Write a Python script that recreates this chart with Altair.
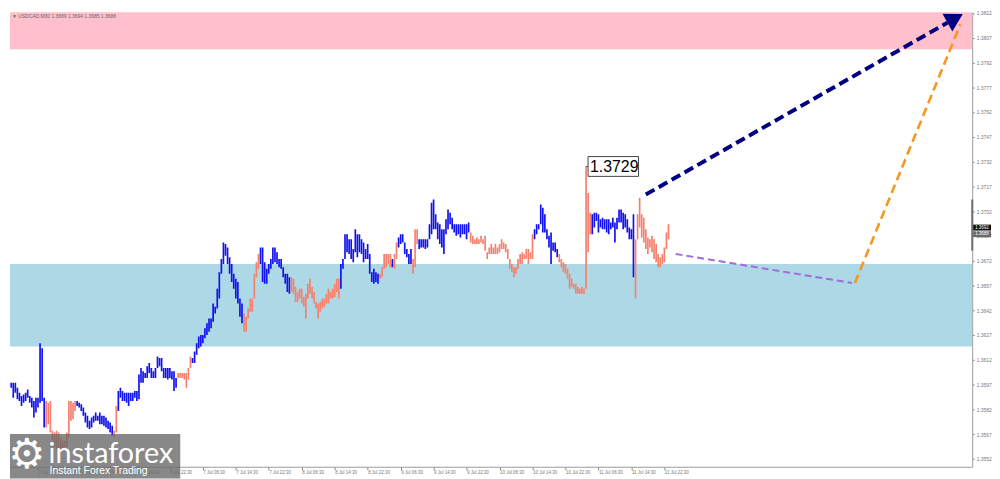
import altair as alt
import pandas as pd

# ---------------- data ----------------
first_bar = -1  # bar index of first bar (M30 bars, index 0 = 3 Jul 06:30)

bar_high = [
    1.3594, 1.3595, 1.3596, 1.3599, 1.3598, 1.3598, 1.3598, 1.3595, 1.3592, 1.3590,
    1.3591, 1.3592, 1.3594, 1.3590, 1.3589, 1.3587, 1.3589, 1.3589, 1.3622, 1.3619,
    1.3589, 1.3587, 1.3586, 1.3587, 1.3569, 1.3568, 1.3569, 1.3568, 1.3565, 1.3563,
    1.3563, 1.3568, 1.3587, 1.3587, 1.3586, 1.3587, 1.3587, 1.3586, 1.3585, 1.3583,
    1.3580, 1.3578, 1.3575, 1.3577, 1.3578, 1.3580, 1.3578, 1.3580, 1.3578, 1.3578,
    1.3577, 1.3575, 1.3574, 1.3572, 1.3569, 1.3584, 1.3593, 1.3595, 1.3593, 1.3592,
    1.3592, 1.3592, 1.3592, 1.3592, 1.3593, 1.3593, 1.3603, 1.3607, 1.3605, 1.3604,
    1.3608, 1.3610, 1.3607, 1.3605, 1.3607, 1.3614, 1.3613, 1.3613, 1.3607, 1.3607,
    1.3607, 1.3607, 1.3605, 1.3605, 1.3601, 1.3604, 1.3604, 1.3604, 1.3604, 1.3604,
    1.3607, 1.3614, 1.3613, 1.3617, 1.3622, 1.3626, 1.3627, 1.3627, 1.3631, 1.3634,
    1.3637, 1.3637, 1.3646, 1.3644, 1.3655, 1.3665, 1.3673, 1.3683, 1.3682, 1.3680,
    1.3674, 1.3670, 1.3664, 1.3661, 1.3659, 1.3649, 1.3646, 1.3640, 1.3638, 1.3643,
    1.3649, 1.3649, 1.3664, 1.3671, 1.3676, 1.3680, 1.3680, 1.3671, 1.3667, 1.3670,
    1.3673, 1.3680, 1.3680, 1.3677, 1.3673, 1.3673, 1.3668, 1.3664, 1.3664, 1.3662,
    1.3662, 1.3661, 1.3656, 1.3653, 1.3655, 1.3655, 1.3650, 1.3652, 1.3658, 1.3661,
    1.3656, 1.3653, 1.3647, 1.3646, 1.3647, 1.3649, 1.3649, 1.3652, 1.3655, 1.3653,
    1.3655, 1.3658, 1.3661, 1.3661, 1.3670, 1.3673, 1.3688, 1.3688, 1.3685, 1.3685,
    1.3679, 1.3691, 1.3688, 1.3688, 1.3685, 1.3683, 1.3679, 1.3682, 1.3676, 1.3665,
    1.3667, 1.3665, 1.3664, 1.3664, 1.3668, 1.3676, 1.3676, 1.3676, 1.3676, 1.3673,
    1.3676, 1.3683, 1.3686, 1.3688, 1.3688, 1.3683, 1.3679, 1.3676, 1.3679, 1.3673,
    1.3691, 1.3691, 1.3685, 1.3685, 1.3685, 1.3685, 1.3685, 1.3694, 1.3707, 1.3709,
    1.3700, 1.3695, 1.3694, 1.3691, 1.3691, 1.3697, 1.3703, 1.3701, 1.3698, 1.3694,
    1.3694, 1.3694, 1.3694, 1.3694, 1.3694, 1.3694, 1.3695, 1.3689, 1.3687, 1.3685,
    1.3686, 1.3685, 1.3687, 1.3685, 1.3687, 1.3677, 1.3680, 1.3682, 1.3680, 1.3682,
    1.3680, 1.3682, 1.3685, 1.3683, 1.3682, 1.3679, 1.3673, 1.3670, 1.3668, 1.3668,
    1.3673, 1.3676, 1.3677, 1.3676, 1.3679, 1.3679, 1.3677, 1.3688, 1.3691, 1.3694,
    1.3694, 1.3706, 1.3704, 1.3700, 1.3691, 1.3687, 1.3689, 1.3683, 1.3683, 1.3679,
    1.3676, 1.3673, 1.3671, 1.3670, 1.3667, 1.3664, 1.3661, 1.3658, 1.3658, 1.3656,
    1.3655, 1.3656, 1.3655, 1.3729, 1.3713, 1.3701, 1.3700, 1.3701, 1.3701, 1.3700,
    1.3697, 1.3698, 1.3697, 1.3697, 1.3697, 1.3695, 1.3698, 1.3695, 1.3698, 1.3703,
    1.3703, 1.3701, 1.3700, 1.3697, 1.3692, 1.3691, 1.3700, 1.3685, 1.3700, 1.3710,
    1.3700, 1.3698, 1.3691, 1.3686, 1.3685, 1.3687, 1.3685, 1.3682, 1.3676, 1.3674,
    1.3676, 1.3680, 1.3689, 1.3694,
]

bar_low = [
    1.3589, 1.3590, 1.3592, 1.3594, 1.3595, 1.3589, 1.3592, 1.3588, 1.3587, 1.3584,
    1.3586, 1.3587, 1.3589, 1.3586, 1.3583, 1.3577, 1.3580, 1.3583, 1.3586, 1.3587,
    1.3571, 1.3571, 1.3573, 1.3568, 1.3563, 1.3559, 1.3558, 1.3557, 1.3557, 1.3558,
    1.3559, 1.3559, 1.3565, 1.3575, 1.3576, 1.3581, 1.3584, 1.3583, 1.3581, 1.3578,
    1.3574, 1.3571, 1.3570, 1.3571, 1.3574, 1.3575, 1.3575, 1.3573, 1.3573, 1.3572,
    1.3571, 1.3570, 1.3568, 1.3566, 1.3565, 1.3568, 1.3581, 1.3589, 1.3587, 1.3587,
    1.3586, 1.3584, 1.3587, 1.3587, 1.3589, 1.3587, 1.3588, 1.3598, 1.3598, 1.3601,
    1.3601, 1.3604, 1.3601, 1.3601, 1.3601, 1.3607, 1.3608, 1.3605, 1.3601, 1.3601,
    1.3600, 1.3601, 1.3600, 1.3593, 1.3595, 1.3601, 1.3601, 1.3601, 1.3600, 1.3595,
    1.3600, 1.3607, 1.3610, 1.3610, 1.3615, 1.3619, 1.3620, 1.3622, 1.3625, 1.3627,
    1.3629, 1.3631, 1.3635, 1.3640, 1.3643, 1.3649, 1.3664, 1.3670, 1.3675, 1.3670,
    1.3664, 1.3659, 1.3655, 1.3649, 1.3646, 1.3638, 1.3634, 1.3629, 1.3629, 1.3637,
    1.3641, 1.3641, 1.3649, 1.3662, 1.3667, 1.3670, 1.3659, 1.3658, 1.3658, 1.3664,
    1.3667, 1.3670, 1.3671, 1.3670, 1.3668, 1.3667, 1.3662, 1.3658, 1.3653, 1.3652,
    1.3653, 1.3652, 1.3647, 1.3647, 1.3649, 1.3646, 1.3644, 1.3637, 1.3649, 1.3652,
    1.3649, 1.3646, 1.3643, 1.3637, 1.3641, 1.3643, 1.3644, 1.3646, 1.3646, 1.3649,
    1.3649, 1.3650, 1.3653, 1.3649, 1.3655, 1.3667, 1.3673, 1.3677, 1.3676, 1.3673,
    1.3671, 1.3677, 1.3674, 1.3677, 1.3676, 1.3671, 1.3673, 1.3673, 1.3664, 1.3659,
    1.3658, 1.3659, 1.3658, 1.3661, 1.3662, 1.3667, 1.3668, 1.3670, 1.3668, 1.3668,
    1.3667, 1.3673, 1.3680, 1.3682, 1.3683, 1.3676, 1.3674, 1.3670, 1.3670, 1.3664,
    1.3668, 1.3682, 1.3679, 1.3680, 1.3680, 1.3679, 1.3680, 1.3685, 1.3688, 1.3691,
    1.3691, 1.3685, 1.3682, 1.3680, 1.3676, 1.3688, 1.3691, 1.3694, 1.3691, 1.3689,
    1.3687, 1.3688, 1.3686, 1.3688, 1.3688, 1.3685, 1.3689, 1.3683, 1.3682, 1.3682,
    1.3682, 1.3682, 1.3683, 1.3682, 1.3678, 1.3673, 1.3676, 1.3676, 1.3676, 1.3676,
    1.3676, 1.3677, 1.3679, 1.3679, 1.3677, 1.3673, 1.3667, 1.3665, 1.3662, 1.3664,
    1.3667, 1.3670, 1.3670, 1.3673, 1.3673, 1.3670, 1.3673, 1.3673, 1.3685, 1.3688,
    1.3691, 1.3694, 1.3689, 1.3689, 1.3685, 1.3680, 1.3670, 1.3678, 1.3677, 1.3674,
    1.3671, 1.3668, 1.3665, 1.3664, 1.3661, 1.3655, 1.3656, 1.3655, 1.3652, 1.3652,
    1.3652, 1.3652, 1.3652, 1.3655, 1.3677, 1.3688, 1.3688, 1.3692, 1.3696, 1.3689,
    1.3692, 1.3691, 1.3691, 1.3689, 1.3688, 1.3691, 1.3692, 1.3683, 1.3691, 1.3695,
    1.3695, 1.3691, 1.3692, 1.3689, 1.3685, 1.3685, 1.3662, 1.3649, 1.3685, 1.3692,
    1.3686, 1.3683, 1.3679, 1.3676, 1.3680, 1.3677, 1.3673, 1.3671, 1.3668, 1.3668,
    1.3670, 1.3671, 1.3679, 1.3685,
]

# wave-colour runs of consecutive bars
seg_kind = ["down", "up", "down", "up", "down", "up", "down", "up", "down", "up", "down", "up",
            "down", "up", "down", "up", "down", "up", "down", "up", "down", "up", "down"]
seg_len = [2, 19, 15, 18, 2, 29, 7, 25, 8, 15, 24, 19, 6, 1, 2, 7, 3, 25, 31, 12, 16, 21, 17]

# time axis (bar index -> label)
tick_idx = [16, 32, 48, 64, 80, 96, 112, 128, 144, 160, 176, 192, 208, 224, 240, 256, 272, 288, 304, 320]
tick_labels = ["3 Jul 14:30", "3 Jul 22:30", "4 Jul 06:30", "4 Jul 14:30", "4 Jul 22:30",
               "7 Jul 06:30", "7 Jul 14:30", "7 Jul 22:30", "8 Jul 06:30", "8 Jul 14:30",
               "8 Jul 22:30", "9 Jul 06:30", "9 Jul 14:30", "9 Jul 22:30", "10 Jul 06:30",
               "10 Jul 14:30", "10 Jul 22:30", "11 Jul 06:30", "11 Jul 14:30", "11 Jul 22:30"]

price_ticks = [1.3552, 1.3567, 1.3582, 1.3597, 1.3612, 1.3627, 1.3642, 1.3657, 1.3672, 1.3687,
               1.3702, 1.3717, 1.3732, 1.3747, 1.3762, 1.3777, 1.3792, 1.3807, 1.3822]

# zones
zone_low = [1.3800, 1.3620]
zone_high = [1.3830, 1.3670]
zone_kind = ["resistance", "support"]

# forecast paths (bar index, price)
purple_idx = [325.5, 411.0]
purple_price = [1.3676, 1.36585]
orange_idx = [412.5, 463.7]
orange_price = [1.36585, 1.38151]
navy_idx = [311.0, 457.4]
navy_price = [1.3712, 1.38161]
arrow_idx = [461.1]
arrow_price = [1.38187]

peak_idx = [282]
peak_price = [1.3729]

bid_ask = [1.3692, 1.3688]
scroll_mark = [1.3709, 1.3678]

title_text = "\u25bc USDCAD,M30  1.3689 1.3694 1.3685 1.3688"

# ---------------- styling ----------------
W, H = 972, 459
X_DOMAIN = [2.4, 469.4]
Y_DOMAIN = [1.35472, 1.38223]
BLUE = "#1212EE"
SALMON = "#F4806E"
SMALL_FONT = "Liberation Sans"

label_expr = "[" + ",".join("'%s'" % t for t in tick_labels) + "][indexof([" + \
    ",".join(str(i) for i in tick_idx) + "], datum.value)]"

xscale = alt.Scale(domain=X_DOMAIN, nice=False, zero=False)
yscale = alt.Scale(domain=Y_DOMAIN, nice=False, zero=False)
xaxis = alt.Axis(orient="bottom", values=tick_idx, labelExpr=label_expr, title=None, grid=False,
                 labelAlign="left", labelBaseline="top", labelFontSize=4.5, labelFont=SMALL_FONT,
                 labelColor="#777777", labelPadding=0, tickSize=3, tickColor="#888888",
                 domainColor="#9a9a9a", labelOverlap=False, labelFlush=False, labelBound=False)
yaxis = alt.Axis(orient="right", values=price_ticks, format=".4f", title=None, grid=False,
                 labelFontSize=5, labelFont=SMALL_FONT, labelColor="#777777", labelPadding=2,
                 tickSize=2, tickColor="#888888", domainColor="#9a9a9a", labelOverlap=False,
                 labelFlush=False, labelBound=False)


def X(field):
    return alt.X(field, type="quantitative", scale=xscale, axis=xaxis)


def Y(field):
    return alt.Y(field, type="quantitative", scale=yscale, axis=yaxis)


# ---------------- tables ----------------
kinds = []
for k, n in zip(seg_kind, seg_len):
    kinds += [k] * n
bars_df = pd.DataFrame({
    "idx": list(range(first_bar, first_bar + len(bar_high))),
    "high": bar_high,
    "low": bar_low,
    "kind": kinds[:len(bar_high)],
})
bars_df["col"] = bars_df["kind"].map({"up": BLUE, "down": SALMON})

zones_df = pd.DataFrame({"lo": zone_low, "hi": zone_high, "kind": zone_kind})
zones_df["col"] = zones_df["kind"].map({"resistance": "#FFC0CB", "support": "#ADD8E6"})

purple_df = pd.DataFrame({"idx": purple_idx, "price": purple_price})
orange_df = pd.DataFrame({"idx": orange_idx, "price": orange_price})
navy_df = pd.DataFrame({"idx": navy_idx, "price": navy_price})
arrow_df = pd.DataFrame({"idx": arrow_idx, "price": arrow_price})
peak_df = pd.DataFrame({"idx": peak_idx, "price": peak_price,
                        "label": ["%.4f" % p for p in peak_price]})
bidask_df = pd.DataFrame({"price": bid_ask, "label": ["%.4f" % p for p in bid_ask],
                          "col": ["#111111", "#6a6a6a"]})
scroll_df = pd.DataFrame({"a": [scroll_mark[0]], "b": [scroll_mark[1]]})
one = pd.DataFrame({"k": [0]})

# ---------------- layers ----------------
zones = alt.Chart(zones_df).mark_rect(clip=True).encode(
    x=alt.value(0), x2=alt.value(W), y=Y("lo"), y2="hi", color=alt.Color("col:N", scale=None))

bars = alt.Chart(bars_df).mark_rule(strokeWidth=1.7, clip=True).encode(
    x=X("idx"), y=Y("low"), y2="high", color=alt.Color("col:N", scale=None))

purple = alt.Chart(purple_df).mark_line(color="#A36BDC", strokeWidth=2, strokeDash=[7, 4],
                                        clip=True).encode(x=X("idx"), y=Y("price"))
orange = alt.Chart(orange_df).mark_line(color="#F7961E", strokeWidth=2.6, strokeDash=[9, 5],
                                        clip=True).encode(x=X("idx"), y=Y("price"))
navy = alt.Chart(navy_df).mark_line(color="#000080", strokeWidth=4, strokeDash=[10, 5],
                                    clip=True).encode(x=X("idx"), y=Y("price"))
arrow = alt.Chart(arrow_df).mark_point(shape="triangle-up", filled=True, color="#000080", opacity=1,
                                       size=420, angle=61, clip=True).encode(x=X("idx"), y=Y("price"))

peak_box = alt.Chart(peak_df).mark_rect(fill="white", stroke="#444444", strokeWidth=1,
                                        xOffset=2, x2Offset=53, yOffset=-10, y2Offset=10).encode(
    x=X("idx"), x2="idx", y=Y("price"), y2="price")
peak_tick = alt.Chart(peak_df).mark_rule(color="#444444", strokeWidth=1, x2Offset=2).encode(
    x=X("idx"), x2="idx", y=Y("price"))
peak_text = alt.Chart(peak_df).mark_text(align="left", baseline="middle", dx=4, dy=1, fontSize=16,
                                         font="Liberation Sans", color="#000000").encode(
    x=X("idx"), y=Y("price"), text="label:N")

scroll = alt.Chart(scroll_df).mark_rule(color="#707070", strokeWidth=2).encode(
    x=alt.value(W), y=Y("a"), y2="b")
bid_box = alt.Chart(bidask_df).mark_rect(yOffset=-3, y2Offset=3).encode(
    x=alt.value(W + 1), x2=alt.value(W + 19), y=Y("price"), y2="price",
    color=alt.Color("col:N", scale=None))
bid_text = alt.Chart(bidask_df).mark_text(align="left", baseline="middle", fontSize=4.5,
                                          font=SMALL_FONT, color="white").encode(
    x=alt.value(W + 3), y=Y("price"), text="label:N")

title = alt.Chart(one).mark_text(align="left", baseline="middle", fontSize=5, font=SMALL_FONT,
                                 color="#666666", text=title_text).encode(
    x=alt.value(2), y=alt.value(4))

logo_bg = alt.Chart(one).mark_rect(fill="#6a6a6a", opacity=0.8).encode(
    x=alt.value(0), x2=alt.value(172), y=alt.value(426), y2=alt.value(471))
logo_gear = alt.Chart(one).mark_text(align="center", baseline="middle", fontSize=42,
                                     font="DejaVu Sans", color="white", text="\u2699").encode(
    x=alt.value(17), y=alt.value(447))
logo_name = alt.Chart(one).mark_text(align="left", baseline="alphabetic", fontSize=29,
                                     font="Lato", color="white", text="instaforex").encode(
    x=alt.value(39), y=alt.value(455))
logo_tag = alt.Chart(one).mark_text(align="left", baseline="alphabetic", fontSize=10.5,
                                    font="Liberation Sans", color="white",
                                    text="Instant Forex Trading").encode(
    x=alt.value(40), y=alt.value(466))

chart = alt.layer(
    zones, bars, purple, orange, navy, arrow, peak_tick, peak_box, peak_text,
    scroll, bid_box, bid_text, title, logo_bg, logo_gear, logo_name, logo_tag
).properties(width=W, height=H, padding=0, background="white").configure_view(stroke=None)

chart.save("out.html", embed_options={"renderer": "svg", "actions": False})
